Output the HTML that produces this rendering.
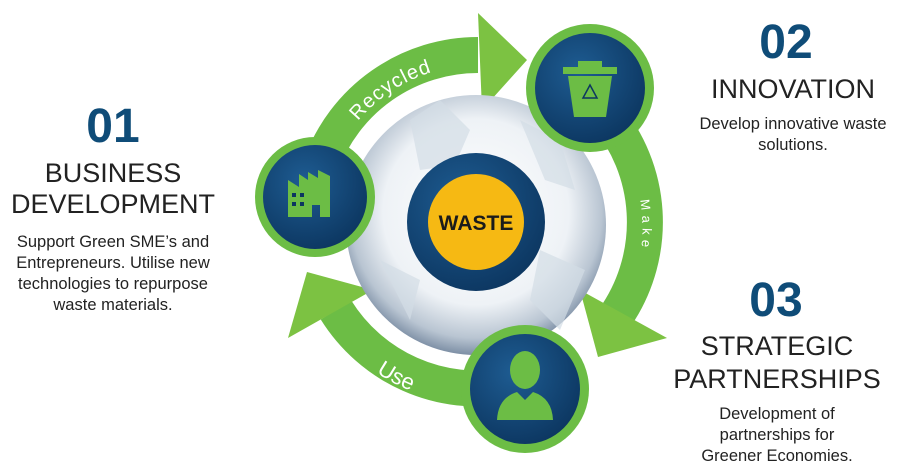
<!DOCTYPE html>
<html><head><meta charset="utf-8"><style>
html,body{margin:0;padding:0;background:#fff;}
svg{display:block;}
</style></head><body>
<svg width="910" height="470" viewBox="0 0 910 470" xmlns="http://www.w3.org/2000/svg" font-family="Liberation Sans, sans-serif">
<defs>
<radialGradient id="globe" cx="50%" cy="45%" r="55%">
<stop offset="0" stop-color="#ffffff"/><stop offset="0.65" stop-color="#eef2f6"/><stop offset="0.88" stop-color="#b9c5d2"/><stop offset="1" stop-color="#7d8fa5"/>
</radialGradient>
<radialGradient id="nav" cx="40%" cy="35%" r="70%">
<stop offset="0" stop-color="#1e5c92"/><stop offset="1" stop-color="#0c3660"/>
</radialGradient>
<path id="pRec" d="M 358 121 A 157 157 0 0 1 556.5 86"/>
<path id="pMake" d="M 640 200 A 160 160 0 0 1 630 290"/>
<path id="pUse" d="M 361 361 A 182 182 0 0 0 462 403"/>
</defs>
<g fill="none" stroke="#6cbd45" stroke-width="36">
<path d="M 321 165 A 167 167 0 0 1 478 55"/>
<path d="M 606 115 A 167 167 0 0 1 618 313"/>
<path d="M 507 386 A 167 167 0 0 1 336 310"/>
</g>
<polygon points="478,13 527,60 482,110" fill="#7cc242"/>
<polygon points="580,290 667,338 598,357" fill="#7cc242"/>
<polygon points="288,338 307,272 373,290" fill="#7cc242"/>
<circle cx="476" cy="225" r="130" fill="url(#globe)"/>
<path d="M410 120 L440 100 L470 130 L455 165 L420 170 Z M520 120 L560 140 L575 190 L545 180 Z M540 250 L585 270 L560 330 L530 300 Z M380 260 L420 280 L410 320 Z" fill="#d3dde6" opacity="0.7"/>
<circle cx="476" cy="222" r="69" fill="url(#nav)"/>
<circle cx="476" cy="222" r="48" fill="#f6b913"/>
<text x="476" y="230" font-size="21" font-weight="bold" text-anchor="middle" fill="#1b1b1b">WASTE</text>
<g>
<circle cx="315" cy="197" r="60" fill="#6cbd45"/><circle cx="315" cy="197" r="52" fill="url(#nav)"/>
<path d="M288 217 V180 L299 187 V174 L308 180 V172 L318 178 V170 L330 176 V217 H320 V205 H312 V217 Z" fill="#6cbd45"/>
<rect x="292" y="193" width="4" height="4" fill="#0c3660"/><rect x="300" y="193" width="4" height="4" fill="#0c3660"/><rect x="292" y="202" width="4" height="4" fill="#0c3660"/><rect x="300" y="202" width="4" height="4" fill="#0c3660"/>
<circle cx="590" cy="88" r="64" fill="#6cbd45"/><circle cx="590" cy="88" r="55" fill="url(#nav)"/>
<rect x="563" y="67" width="54" height="7" fill="#6cbd45"/><rect x="578" y="61" width="24" height="6" fill="#6cbd45"/>
<path d="M568 76 H612 L606 117 H574 Z" fill="#6cbd45"/>
<path d="M590 85 L597 98 H583 Z" fill="none" stroke="#0c3660" stroke-width="1.5"/>
<circle cx="525" cy="389" r="64" fill="#6cbd45"/><circle cx="525" cy="389" r="55" fill="url(#nav)"/>
<ellipse cx="525" cy="370" rx="15" ry="19" fill="#6cbd45"/>
<path d="M497 420 Q498 398 517 392 L525 400 L533 392 Q552 398 553 420 Z" fill="#6cbd45"/>
</g>
<text font-size="20" fill="#fff" letter-spacing="1"><textPath href="#pRec">Recycled</textPath></text>
<text font-size="13" fill="#fff" letter-spacing="5"><textPath href="#pMake">Make</textPath></text>
<text font-size="22" fill="#fff"><textPath href="#pUse" startOffset="19">Use</textPath></text>
<g text-anchor="middle">
<text x="113" y="142" font-size="48" font-weight="bold" fill="#0f4c78">01</text>
<text x="113" y="182" font-size="27" fill="#222">BUSINESS</text>
<text x="113" y="213" font-size="27" fill="#222">DEVELOPMENT</text>
<text font-size="16.5" fill="#222"><tspan x="113" y="247">Support Green SME’s and</tspan><tspan x="113" y="268">Entrepreneurs. Utilise new</tspan><tspan x="113" y="289">technologies to repurpose</tspan><tspan x="113" y="310">waste materials.</tspan></text>
<text x="786" y="58" font-size="48" font-weight="bold" fill="#0f4c78">02</text>
<text x="793" y="98" font-size="27" fill="#222">INNOVATION</text>
<text font-size="16.5" fill="#222"><tspan x="793" y="129">Develop innovative waste</tspan><tspan x="793" y="150">solutions.</tspan></text>
<text x="776" y="316" font-size="48" font-weight="bold" fill="#0f4c78">03</text>
<text x="777" y="355" font-size="27" fill="#222">STRATEGIC</text>
<text x="777" y="388" font-size="27" fill="#222">PARTNERSHIPS</text>
<text font-size="16.5" fill="#222"><tspan x="777" y="419">Development of</tspan><tspan x="777" y="440">partnerships for</tspan><tspan x="777" y="461">Greener Economies.</tspan></text>
</g>
</svg>
</body></html>
